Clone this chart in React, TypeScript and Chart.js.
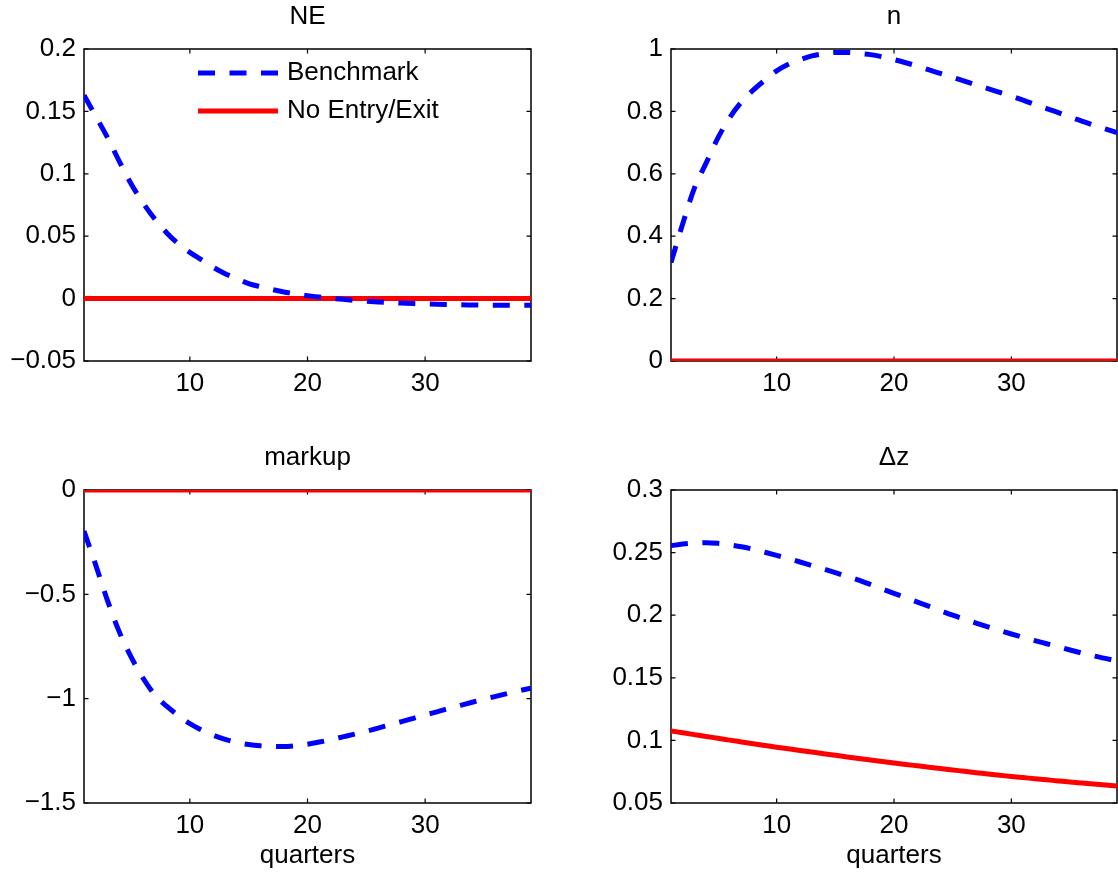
import React, { useEffect, useRef } from 'react';
import { Chart, registerables } from 'chart.js';

Chart.register(...registerables);

// ---------------- data ----------------
const QUARTERS = [
  1, 2, 3, 4, 5, 6, 7, 8, 9, 10, 11, 12, 13, 14, 15, 16, 17, 18, 19, 20,
  21, 22, 23, 24, 25, 26, 27, 28, 29, 30, 31, 32, 33, 34, 35, 36, 37, 38, 39,
];
const X_TICKS = [10, 20, 30];

const SERIES_LABELS = ['Benchmark', 'No Entry/Exit'];

// NE
const NE_BENCHMARK = [
  0.163, 0.146, 0.129, 0.11, 0.092, 0.077, 0.064, 0.053, 0.044, 0.037,
  0.031, 0.025, 0.02, 0.016, 0.012, 0.0095, 0.0073, 0.0053, 0.0037, 0.0024,
  0.0012, 0.0003, -0.0006, -0.0014, -0.0021, -0.0027, -0.0032, -0.0036, -0.004, -0.0043,
  -0.0046, -0.0048, -0.005, -0.0051, -0.0052, -0.0053, -0.0053, -0.0054, -0.0054,
];
const NE_NO_ENTRY = [
  0, 0, 0, 0, 0, 0, 0, 0, 0, 0, 0, 0, 0, 0, 0, 0, 0, 0, 0, 0,
  0, 0, 0, 0, 0, 0, 0, 0, 0, 0, 0, 0, 0, 0, 0, 0, 0, 0, 0,
];
const NE_Y_TICKS = [-0.05, 0, 0.05, 0.1, 0.15, 0.2];

// n
const N_BENCHMARK = [
  0.316, 0.44, 0.555, 0.635, 0.715, 0.78, 0.83, 0.868, 0.9, 0.93,
  0.951, 0.966, 0.978, 0.985, 0.989, 0.989, 0.986, 0.982, 0.975, 0.966,
  0.956, 0.945, 0.933, 0.921, 0.909, 0.897, 0.885, 0.873, 0.861, 0.849,
  0.836, 0.822, 0.809, 0.796, 0.782, 0.769, 0.756, 0.744, 0.732,
];
const N_NO_ENTRY = [
  0, 0, 0, 0, 0, 0, 0, 0, 0, 0, 0, 0, 0, 0, 0, 0, 0, 0, 0, 0,
  0, 0, 0, 0, 0, 0, 0, 0, 0, 0, 0, 0, 0, 0, 0, 0, 0, 0, 0,
];
const N_Y_TICKS = [0, 0.2, 0.4, 0.6, 0.8, 1];

// markup
const MARKUP_BENCHMARK = [
  -0.197, -0.36, -0.53, -0.68, -0.8, -0.9, -0.98, -1.035, -1.08, -1.12,
  -1.15, -1.175, -1.195, -1.21, -1.22, -1.226, -1.229, -1.229, -1.225, -1.218,
  -1.208, -1.196, -1.183, -1.17, -1.156, -1.141, -1.125, -1.11, -1.094, -1.078,
  -1.063, -1.047, -1.032, -1.017, -1.003, -0.989, -0.975, -0.962, -0.95,
];
const MARKUP_NO_ENTRY = [
  0, 0, 0, 0, 0, 0, 0, 0, 0, 0, 0, 0, 0, 0, 0, 0, 0, 0, 0, 0,
  0, 0, 0, 0, 0, 0, 0, 0, 0, 0, 0, 0, 0, 0, 0, 0, 0, 0, 0,
];
const MARKUP_Y_TICKS = [-1.5, -1, -0.5, 0];

// Δz
const DZ_BENCHMARK = [
  0.2555, 0.2568, 0.2576, 0.2579, 0.2574, 0.2562, 0.2547, 0.2527, 0.2503, 0.2478,
  0.2452, 0.2425, 0.2397, 0.2369, 0.234, 0.231, 0.228, 0.2245, 0.221, 0.2175,
  0.214, 0.2105, 0.207, 0.2035, 0.2, 0.1968, 0.1937, 0.1907, 0.1878, 0.185,
  0.1823, 0.1797, 0.1772, 0.1747, 0.1722, 0.1698, 0.1675, 0.1655, 0.1635,
];
const DZ_NO_ENTRY = [
  0.1076, 0.1061, 0.1046, 0.1031, 0.1017, 0.1002, 0.0988, 0.0974, 0.096, 0.0946,
  0.0933, 0.092, 0.0907, 0.0894, 0.0881, 0.0868, 0.0856, 0.0844, 0.0832, 0.082,
  0.0808, 0.0797, 0.0786, 0.0775, 0.0764, 0.0753, 0.0742, 0.0732, 0.0722, 0.0712,
  0.0703, 0.0694, 0.0685, 0.0676, 0.0667, 0.0659, 0.0651, 0.0643, 0.0635,
];
const DZ_Y_TICKS = [0.05, 0.1, 0.15, 0.2, 0.25, 0.3];

// ---------------- styling ----------------
const FONT_FAMILY = '"Liberation Sans", Helvetica, Arial, sans-serif';
const FONT_SIZE = 26;
const BLUE = '#0000ff';
const RED = '#ff0000';
const LINE_W = 5;
const DASH = [17, 14.5];

const fmt = (v: number) => (v < 0 ? '\u2212' + String(-v) : String(v));

const boxPlugin = {
  id: 'matlabBox',
  beforeDatasetsDraw(chart: any) {
    const { ctx, chartArea: a, scales } = chart;
    const L = 4.5;
    ctx.save();
    ctx.strokeStyle = '#000';
    ctx.lineWidth = 1.5;
    ctx.strokeRect(a.left, a.top, a.right - a.left, a.bottom - a.top);
    ctx.lineWidth = 1.2;
    ctx.beginPath();
    scales.x.ticks.forEach((t: any) => {
      const px = scales.x.getPixelForValue(t.value);
      ctx.moveTo(px, a.bottom);
      ctx.lineTo(px, a.bottom - L);
      ctx.moveTo(px, a.top);
      ctx.lineTo(px, a.top + L);
    });
    scales.y.ticks.forEach((t: any) => {
      const py = scales.y.getPixelForValue(t.value);
      ctx.moveTo(a.left, py);
      ctx.lineTo(a.left + L, py);
      ctx.moveTo(a.right, py);
      ctx.lineTo(a.right - L, py);
    });
    ctx.stroke();
    ctx.restore();
  },
};

const legendPlugin = {
  id: 'matlabLegend',
  afterDatasetsDraw(chart: any, _args: any, opts: any) {
    if (!opts || !opts.show) return;
    const { ctx, chartArea: a } = chart;
    ctx.save();
    chart.data.datasets.forEach((ds: any, i: number) => {
      const y = a.top + opts.top + i * opts.rowGap;
      const x0 = a.left + opts.left;
      ctx.strokeStyle = ds.borderColor;
      ctx.lineWidth = ds.borderWidth;
      ctx.lineCap = 'butt';
      ctx.setLineDash(ds.borderDash || []);
      ctx.beginPath();
      ctx.moveTo(x0, y);
      ctx.lineTo(x0 + opts.lineLength, y);
      ctx.stroke();
      ctx.setLineDash([]);
      ctx.fillStyle = '#000';
      ctx.font = `${FONT_SIZE}px ${FONT_FAMILY}`;
      ctx.textBaseline = 'middle';
      ctx.textAlign = 'left';
      ctx.fillText(ds.label, x0 + opts.lineLength + opts.gap, y);
    });
    ctx.restore();
  },
};

type PanelSpec = {
  title: string;
  bench: number[];
  noEntry: number[];
  yTicks: number[];
  yMin: number;
  yMax: number;
  left: number;
  top: number;
  w: number;
  h: number;
  yAxisWidth: number;
  xAxisHeight: number;
  padRight: number;
  titlePadTop: number;
  titlePadBottom: number;
  xTitle: boolean;
  legend: boolean;
};

const PANELS: PanelSpec[] = [
  {
    title: 'NE', bench: NE_BENCHMARK, noEntry: NE_NO_ENTRY, yTicks: NE_Y_TICKS, yMin: -0.05, yMax: 0.2,
    left: 0, top: 0, w: 559, h: 438, yAxisWidth: 84, xAxisHeight: 77, padRight: 28,
    titlePadTop: 1.4, titlePadBottom: 16.4, xTitle: false, legend: true,
  },
  {
    title: 'n', bench: N_BENCHMARK, noEntry: N_NO_ENTRY, yTicks: N_Y_TICKS, yMin: 0, yMax: 1,
    left: 559, top: 0, w: 559, h: 438, yAxisWidth: 112, xAxisHeight: 77, padRight: 1,
    titlePadTop: 1.4, titlePadBottom: 16.4, xTitle: false, legend: false,
  },
  {
    title: 'markup', bench: MARKUP_BENCHMARK, noEntry: MARKUP_NO_ENTRY, yTicks: MARKUP_Y_TICKS, yMin: -1.5, yMax: 0,
    left: 0, top: 438, w: 559, h: 438, yAxisWidth: 84, xAxisHeight: 73, padRight: 28,
    titlePadTop: 4.4, titlePadBottom: 16.4, xTitle: true, legend: false,
  },
  {
    title: '\u0394z', bench: DZ_BENCHMARK, noEntry: DZ_NO_ENTRY, yTicks: DZ_Y_TICKS, yMin: 0.05, yMax: 0.3,
    left: 559, top: 438, w: 559, h: 438, yAxisWidth: 112, xAxisHeight: 73, padRight: 1,
    titlePadTop: 4.4, titlePadBottom: 16.4, xTitle: true, legend: false,
  },
];

function buildConfig(p: PanelSpec): any {
  const font = { family: FONT_FAMILY, size: FONT_SIZE, weight: 'normal' as const };
  return {
    type: 'line',
    data: {
      datasets: [
        {
          label: SERIES_LABELS[0],
          data: QUARTERS.map((q, i) => ({ x: q, y: p.bench[i] })),
          borderColor: BLUE,
          borderWidth: LINE_W,
          borderDash: DASH,
          pointRadius: 0,
          fill: false,
          cubicInterpolationMode: 'monotone',
        },
        {
          label: SERIES_LABELS[1],
          data: QUARTERS.map((q, i) => ({ x: q, y: p.noEntry[i] })),
          borderColor: RED,
          borderWidth: LINE_W,
          pointRadius: 0,
          fill: false,
          cubicInterpolationMode: 'monotone',
        },
      ],
    },
    options: {
      animation: false,
      responsive: false,
      maintainAspectRatio: false,
      events: [],
      layout: { padding: { left: 0, right: p.padRight, top: 0, bottom: 0 }, autoPadding: false },
      plugins: {
        legend: { display: false },
        tooltip: { enabled: false },
        title: {
          display: true,
          text: p.title,
          fullSize: false,
          color: '#000',
          font,
          padding: { top: p.titlePadTop, bottom: p.titlePadBottom },
        },
        matlabLegend: { show: p.legend, left: 114, top: 24, rowGap: 38, lineLength: 80, gap: 9 },
      },
      scales: {
        x: {
          type: 'linear',
          min: QUARTERS[0],
          max: QUARTERS[QUARTERS.length - 1],
          bounds: 'data',
          afterBuildTicks: (s: any) => {
            s.ticks = X_TICKS.map((v) => ({ value: v }));
          },
          afterFit: (s: any) => {
            s.height = p.xAxisHeight;
          },
          grid: { display: false, drawTicks: false },
          border: { display: false },
          ticks: { padding: 7.4, color: '#000', font, autoSkip: false, maxRotation: 0, callback: (v: number) => fmt(v) },
          title: {
            display: p.xTitle,
            text: 'quarters',
            color: '#000',
            font,
            padding: { top: 0, bottom: 4.4 },
          },
        },
        y: {
          type: 'linear',
          min: p.yMin,
          max: p.yMax,
          bounds: 'data',
          afterBuildTicks: (s: any) => {
            s.ticks = p.yTicks.map((v) => ({ value: v }));
          },
          afterFit: (s: any) => {
            s.width = p.yAxisWidth;
          },
          grid: { display: false, drawTicks: false },
          border: { display: false },
          ticks: { padding: 8, color: '#000', font, autoSkip: false, callback: (v: number) => fmt(v) },
        },
      },
    },
    plugins: [boxPlugin, legendPlugin],
  };
}

function Panel({ spec }: { spec: PanelSpec }) {
  const ref = useRef<HTMLCanvasElement | null>(null);
  useEffect(() => {
    if (!ref.current) return;
    const chart = new Chart(ref.current, buildConfig(spec));
    return () => chart.destroy();
  }, [spec]);
  return (
    <canvas
      ref={ref}
      width={spec.w}
      height={spec.h}
      style={{ position: 'absolute', left: spec.left, top: spec.top, width: spec.w, height: spec.h }}
    />
  );
}

export default function App() {
  return (
    <div
      style={{
        position: 'absolute',
        left: 0,
        top: 0,
        width: 1118,
        height: 876,
        background: '#fff',
        overflow: 'hidden',
      }}
    >
      {PANELS.map((p) => (
        <Panel key={p.title} spec={p} />
      ))}
    </div>
  );
}
